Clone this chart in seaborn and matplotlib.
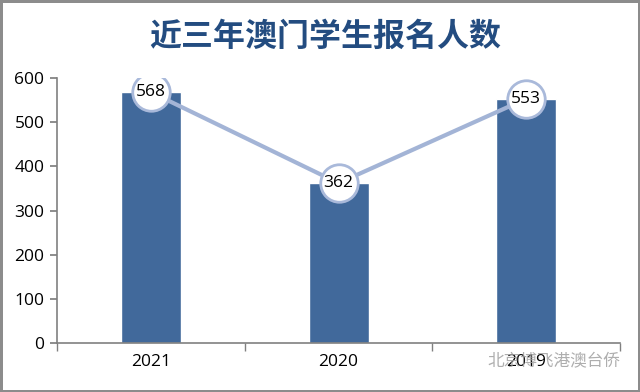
import matplotlib
matplotlib.use("Agg")
import matplotlib.pyplot as plt
import seaborn as sns
import pandas as pd
import numpy as np

years = ["2021", "2020", "2019"]
counts = [568, 362, 553]
yticks = [0, 100, 200, 300, 400, 500, 600]
title = "近三年澳门学生报名人数"
watermark = "北京博飞港澳台侨"

sns.set_theme(style="white")
plt.rcParams['font.family'] = ['Noto Sans CJK SC', 'DejaVu Sans']
num_font = ['Open Sans', 'DejaVu Sans']

df = pd.DataFrame({"year": years, "count": counts})

fig = plt.figure(figsize=(6.4, 3.92), dpi=100)
fig.patch.set_edgecolor("#8c8c8c")
fig.patch.set_linewidth(2.5)
ax = fig.add_axes([0.089, 0.125, 0.88, 0.676])

sns.barplot(data=df, x="year", y="count", color="#41699B", width=0.32,
            saturation=1, ax=ax, zorder=2)
sns.pointplot(data=df, x="year", y="count", color="#A3B4D6", ax=ax,
              markers="o", linewidth=3)
for ln in ax.lines:
    ln.set_zorder(3)
    ln.set_markersize(27)
    ln.set_markerfacecolor("white")
    ln.set_markeredgecolor("#A9B9DA")
    ln.set_markeredgewidth(2)

for i, v in enumerate(counts):
    ax.text(i, v, str(v), ha="center", va="center", fontsize=12.5,
            color="black", zorder=5, family=num_font)

ax.set_xlim(-0.5, 2.5)
ax.set_ylim(0, 600)
ax.set_yticks(yticks)
ax.set_yticklabels([str(t) for t in yticks], fontsize=12.5, family=num_font, color="black")
ax.set_xticks(range(len(years)))
ax.set_xticklabels(years, fontsize=12.5, family=num_font, color="black")
ax.set_xlabel("")
ax.set_ylabel("")
ax.tick_params(axis="x", which="major", length=0, pad=8)
ax.set_xticks([-0.5, 0.5, 1.5, 2.5], minor=True)
ax.tick_params(axis="x", which="minor", length=6, direction="out", color="#808080", bottom=True)
ax.tick_params(axis="y", length=5, direction="out", color="#808080", left=True, pad=4)
for s in ["top", "right"]:
    ax.spines[s].set_visible(False)
for s in ["left", "bottom"]:
    ax.spines[s].set_color("#808080")
    ax.spines[s].set_linewidth(1.2)

fig.text(0.508, 0.905, title, ha="center", va="center", fontsize=23,
         fontweight="bold", color="#234C80")
fig.text(0.865, 0.078, watermark, ha="center", va="center", fontsize=12,
         color="#a0a0a0", alpha=0.85)

fig.savefig("out.png", dpi=100)
